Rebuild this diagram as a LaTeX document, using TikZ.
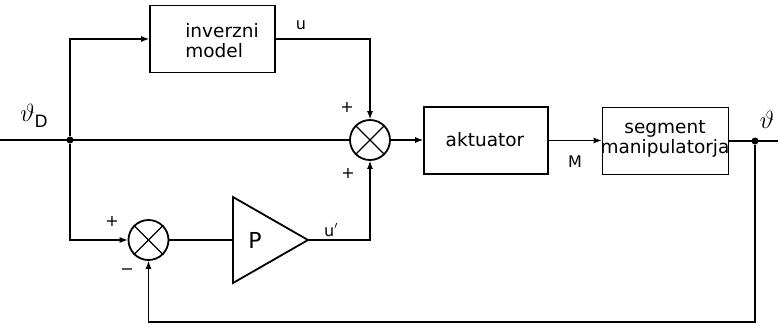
\documentclass[tikz,border=0pt]{standalone}
\usepackage{fontspec}
\setmainfont{DejaVu Sans}
\usetikzlibrary{arrows.meta}
\begin{document}
\begin{tikzpicture}[x=1pt,y=-1pt, line width=1.1pt,
  blk/.style={draw, line width=1.8pt, inner sep=0pt},
  btext/.style={align=left, inner sep=0pt, font=\fontsize{18.5}{20}\selectfont},
  summer/.style={draw, circle, line width=1.8pt, minimum size=40pt, inner sep=0pt},
  arr/.style={-{Latex[length=8pt,width=6pt]}},
  lbl/.style={font=\fontsize{16}{17}\selectfont, inner sep=0pt},
  dotn/.style={circle, fill, minimum size=7pt, inner sep=0pt}]
\useasboundingbox (0,0) rectangle (778,333);

% blocks
\node[blk, minimum width=125pt, minimum height=67pt] (inv) at (212.5,39) {};
\node[btext] (invt) at (222,41) {inverzni\\model};
\node[blk, minimum width=124pt, minimum height=67pt] (akt) at (486,140.5) {};
\node[btext] (aktt) at (485,140) {aktuator};
\node[blk, minimum width=126pt, minimum height=67pt] (seg) at (665.5,141) {};
\node[btext, align=center] (segt) at (665,139) {segment\\manipulatorja};

% summers
\node[summer] (s1) at (370,140) {};
\draw[line width=1.3pt] (s1.north west) -- (s1.south east) (s1.north east) -- (s1.south west);
\node[summer] (s2) at (148.5,240) {};
\draw[line width=1.3pt] (s2.north west) -- (s2.south east) (s2.north east) -- (s2.south west);

% P amplifier
\coordinate (pin) at (233,240);
\coordinate (pout) at (308,240);
\draw[line width=1.8pt, line join=miter] (233,197) -- (pout) -- (233,283) -- cycle;
\node[font=\fontsize{22}{24}\selectfont, inner sep=0pt] (plbl) at (255,240) {P};

% points
\coordinate (in) at (0,140);
\node[dotn] (j1) at (70,140) {};
\coordinate (out) at (778,141);
\node[dotn] (j2) at (755,141) {};
\coordinate (fb) at (755,322);

% connectors
\draw (in) -- (s1.west);
\draw[arr] (j1) |- (inv.west);
\draw[arr] (j1) |- (s2.west);
\draw[arr] (inv.east) -| (s1.north);
\draw[arr] (s1.east) -- (s1.east -| akt.west);
\draw[arr] (akt.east) -- (seg.west |- akt.east);
\draw (seg.east) -- (out);
\draw (s2.east) -- (pin);
\draw[arr] (pout) -| (s1.south);
\draw[arr] (j2) -- (fb) -| (s2.south);

% labels
\node[lbl] (lu) at (301,25) {u};
\node[lbl] (lup) at (331,230) {u$'$};
\node[lbl] (lm) at (575,162) {M};
\node[lbl] (p1) at (347,107) {+};
\node[lbl] (p2) at (348,173) {+};
\node[lbl] (p3) at (112,221) {+};
\node[lbl] (m1) at (127,272) {−};
\node[inner sep=0pt] (thD) at (34,116) {\fontsize{30}{30}\selectfont$\vartheta$\fontsize{17}{17}\selectfont\raisebox{-6pt}{D}};
\node[inner sep=0pt] (th) at (767,120) {\fontsize{30}{30}\selectfont$\vartheta$};
\end{tikzpicture}
\end{document}
